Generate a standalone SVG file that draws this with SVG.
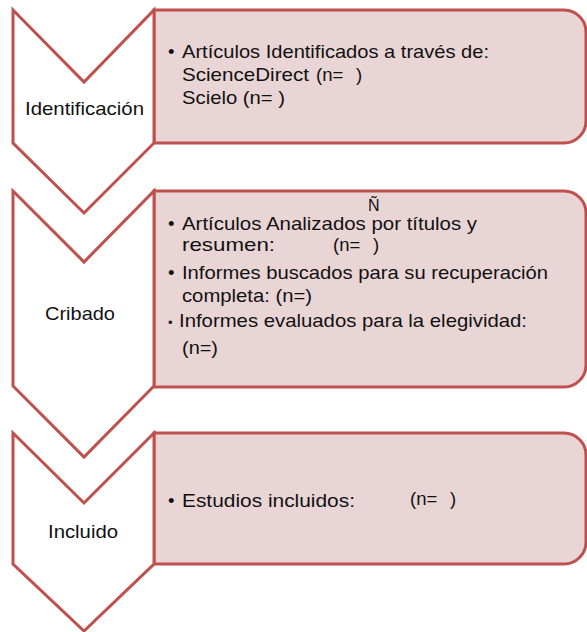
<svg xmlns="http://www.w3.org/2000/svg" width="587" height="632" viewBox="0 0 587 632">
<style>
.chev{fill:#ffffff;stroke:#C0504D;stroke-width:3;stroke-linejoin:miter}
.box{fill:#E9D5D5;stroke:#C0504D;stroke-width:3}
text{font-family:"Liberation Sans",Arial,sans-serif;font-size:18.5px;fill:#111}
.sb{font-size:13px}
</style>
<rect width="587" height="632" fill="#ffffff"/>
<g id="step1">
<path class="box" d="M154,10 H564 A22,22 0 0 1 586,32 V121 A22,22 0 0 1 564,143 H154 Z"/>
<path class="chev" d="M13,10 L84,82 L154,10 L154,143 L84,213 L13,143 Z"/>
<text x="25" y="115" textLength="119" lengthAdjust="spacingAndGlyphs">Identificación</text>
<text x="168" y="58">•</text>
<text x="182" y="58" textLength="307" lengthAdjust="spacingAndGlyphs">Artículos Identificados a través de:</text>
<text x="182" y="81" textLength="127" lengthAdjust="spacingAndGlyphs">ScienceDirect</text>
<text x="316" y="81">(n=</text>
<text x="356" y="81">)</text>
<text x="182" y="104" textLength="103" lengthAdjust="spacingAndGlyphs">Scielo (n= )</text>
</g>
<g id="step2">
<path class="box" d="M154,191 H564 A22,22 0 0 1 586,213 V365 A22,22 0 0 1 564,387 H154 Z"/>
<path class="chev" d="M13,191 L84,262 L154,191 L154,386 L84,457 L13,386 Z"/>
<text x="45" y="320" textLength="70" lengthAdjust="spacingAndGlyphs">Cribado</text>
<text x="368" y="211" style="font-size:16px">Ñ</text>
<text x="168" y="230">•</text>
<text x="182" y="230" textLength="295" lengthAdjust="spacingAndGlyphs">Artículos Analizados por títulos y</text>
<text x="182" y="251" textLength="93" lengthAdjust="spacingAndGlyphs">resumen:</text>
<text x="333" y="251">(n=</text>
<text x="373" y="251">)</text>
<text x="168" y="279">•</text>
<text x="182" y="279" textLength="366" lengthAdjust="spacingAndGlyphs">Informes buscados para su recuperación</text>
<text x="182" y="302" textLength="130" lengthAdjust="spacingAndGlyphs">completa: (n=)</text>
<text x="168" y="327" class="sb">•</text>
<text x="179" y="327" textLength="348" lengthAdjust="spacingAndGlyphs">Informes evaluados para la elegividad:</text>
<text x="182" y="354" textLength="36" lengthAdjust="spacingAndGlyphs">(n=)</text>
</g>
<g id="step3">
<path class="box" d="M154,433 H564 A22,22 0 0 1 586,455 V542 A22,22 0 0 1 564,564 H154 Z"/>
<path class="chev" d="M13,433 L84,503 L154,433 L154,564 L84,631 L13,564 Z"/>
<text x="48" y="538" textLength="70" lengthAdjust="spacingAndGlyphs">Incluido</text>
<text x="168" y="507">•</text>
<text x="182" y="507" textLength="173" lengthAdjust="spacingAndGlyphs">Estudios incluidos:</text>
<text x="410" y="505">(n=</text>
<text x="450" y="505">)</text>
</g>
<g id="connectors"></g>
</svg>
